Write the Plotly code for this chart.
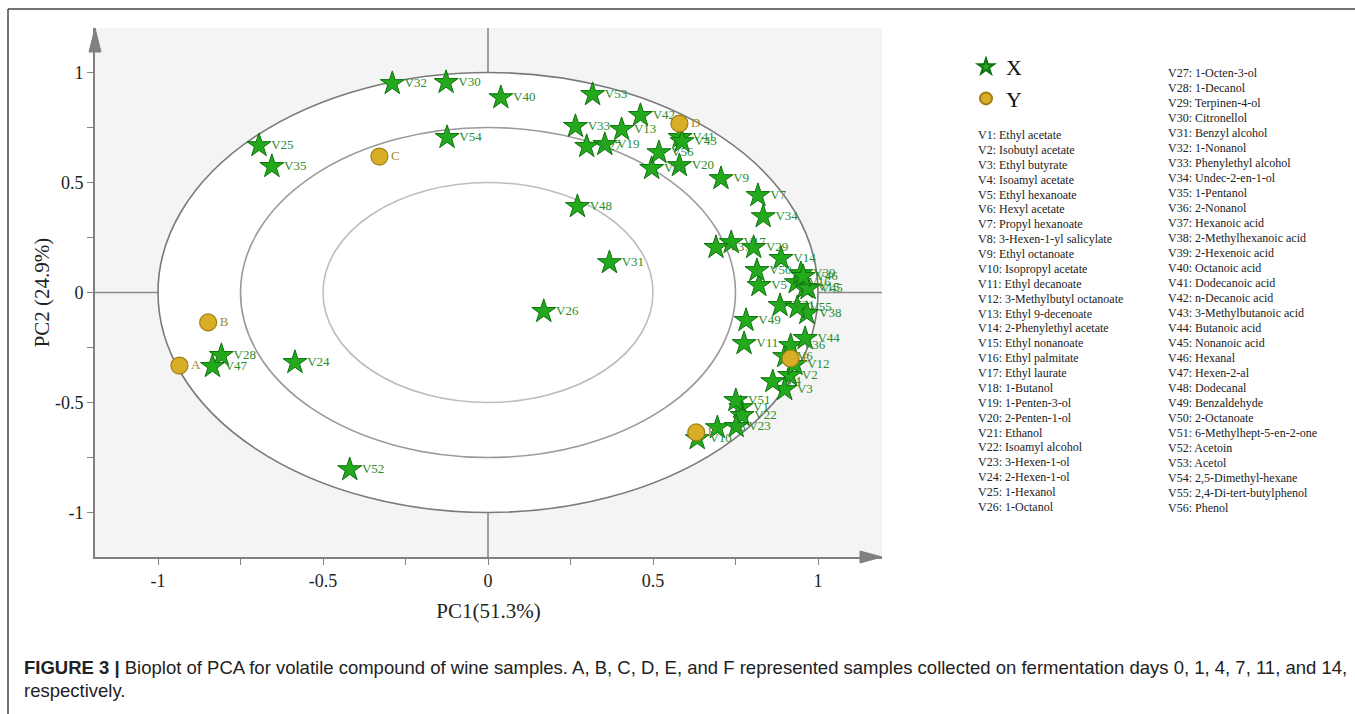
import plotly.graph_objects as go

# ---------------- data ----------------
var_labels = [f"V{i}" for i in range(1, 57)]
var_pc1 = [0.766, 0.914, 0.899, 0.863, 0.821, 0.899, 0.818, 0.695, 0.706, 0.634,
           0.776, 0.930, 0.405, 0.888, 0.961, 0.934, 0.737, 0.496, 0.354, 0.580,
           0.885, 0.770, 0.752, -0.585, -0.694, 0.169, 0.299, -0.808, 0.805, -0.127,
           0.368, -0.290, 0.265, 0.834, -0.655, 0.917, 0.691, 0.966, 0.948, 0.039,
           0.582, 0.462, 0.588, 0.961, 0.970, 0.955, -0.835, 0.271, 0.782, 0.815,
           0.751, -0.419, 0.317, -0.124, 0.937, 0.518]
var_pc2 = [-0.523, -0.377, -0.441, -0.405, 0.032, -0.291, 0.441, -0.614, 0.518, -0.664,
           -0.232, -0.327, 0.741, 0.155, 0.023, 0.045, 0.227, 0.564, 0.673, 0.577,
           -0.059, -0.559, -0.609, -0.318, 0.668, -0.086, 0.664, -0.286, 0.205, 0.955,
           0.136, 0.950, 0.755, 0.345, 0.573, -0.241, 0.205, -0.095, 0.086, 0.886,
           0.705, 0.805, 0.686, -0.209, 0.018, 0.073, -0.336, 0.391, -0.127, 0.100,
           -0.491, -0.805, 0.900, 0.705, -0.068, 0.636]

sample_labels = ["A", "B", "C", "D", "E", "F"]
sample_pc1 = [-0.935, -0.848, -0.329, 0.580, 0.917, 0.631]
sample_pc2 = [-0.332, -0.136, 0.618, 0.768, -0.300, -0.636]

compound_names = [
    "Ethyl acetate", "Isobutyl acetate", "Ethyl butyrate", "Isoamyl acetate",
    "Ethyl hexanoate", "Hexyl acetate", "Propyl hexanoate", "3-Hexen-1-yl salicylate",
    "Ethyl octanoate", "Isopropyl acetate", "Ethyl decanoate", "3-Methylbutyl octanoate",
    "Ethyl 9-decenoate", "2-Phenylethyl acetate", "Ethyl nonanoate", "Ethyl palmitate",
    "Ethyl laurate", "1-Butanol", "1-Penten-3-ol", "2-Penten-1-ol", "Ethanol",
    "Isoamyl alcohol", "3-Hexen-1-ol", "2-Hexen-1-ol", "1-Hexanol", "1-Octanol",
    "1-Octen-3-ol", "1-Decanol", "Terpinen-4-ol", "Citronellol", "Benzyl alcohol",
    "1-Nonanol", "Phenylethyl alcohol", "Undec-2-en-1-ol", "1-Pentanol", "2-Nonanol",
    "Hexanoic acid", "2-Methylhexanoic acid", "2-Hexenoic acid", "Octanoic acid",
    "Dodecanoic acid", "n-Decanoic acid", "3-Methylbutanoic acid", "Butanoic acid",
    "Nonanoic acid", "Hexanal", "Hexen-2-al", "Dodecanal", "Benzaldehyde",
    "2-Octanoate", "6-Methylhept-5-en-2-one", "Acetoin", "Acetol",
    "2,5-Dimethyl-hexane", "2,4-Di-tert-butylphenol", "Phenol"]

series_names = ["X", "Y"]
circle_radii = [1.0, 0.75, 0.5]
tick_vals = [-1, -0.5, 0, 0.5, 1]
tick_text = ["-1", "-0.5", "0", "0.5", "1"]

caption_bold = "FIGURE 3 |"
caption_line1 = (" Bioplot of PCA for volatile compound of wine samples. A, B, C, D, E, and F "
                 "represented samples collected on fermentation days 0, 1, 4, 7, 11, and 14,")
caption_line2 = "respectively."

# ---------------- layout geometry (pixels) ----------------
W, H = 1355, 714
L, R, T, B = 95, 882, 28, 557
pw, ph = R - L, B - T


def px(xp):
    return (xp - L) / pw


def py(yp):
    return (B - yp) / ph


SERIF = "Liberation Serif, Times New Roman, serif"
SANS = "Liberation Sans, Arial, sans-serif"

fig = go.Figure()

fig.add_trace(go.Scatter(
    x=var_pc1, y=var_pc2, text=var_labels, mode="markers+text",
    name=series_names[0], textposition="middle right",
    textfont=dict(family=SERIF, size=13, color="#2b8c2b"),
    marker=dict(symbol="star", size=18, color="#22aa1c",
                line=dict(color="#11700f", width=1)),
    cliponaxis=False,
))
fig.add_trace(go.Scatter(
    x=sample_pc1, y=sample_pc2, text=sample_labels, mode="markers+text",
    name=series_names[1], textposition="middle right",
    textfont=dict(family=SERIF, size=13, color="#a3852c"),
    marker=dict(symbol="circle", size=17, color="#d8ae26",
                line=dict(color="#9f7d16", width=1.2)),
    cliponaxis=False,
))

shapes = []
# white fill inside outer circle
shapes.append(dict(type="circle", xref="x", yref="y", x0=-1, x1=1, y0=-1, y1=1,
                   fillcolor="white", line=dict(width=0), layer="below"))
ring_colors = ["#7a7a7a", "#9a9a9a", "#bdbdbd"]
for r, c in zip(circle_radii, ring_colors):
    shapes.append(dict(type="circle", xref="x", yref="y", x0=-r, x1=r, y0=-r, y1=r,
                       line=dict(color=c, width=1.6), layer="below"))
# crosshair
shapes.append(dict(type="line", xref="x", yref="paper", x0=0, x1=0, y0=0, y1=1,
                   line=dict(color="#8a8a8a", width=1.6), layer="below"))
shapes.append(dict(type="line", xref="paper", yref="y", x0=0, x1=1, y0=0, y1=0,
                   line=dict(color="#8a8a8a", width=1.6), layer="below"))
# axis arrows
ax_w = 6
shapes.append(dict(type="path", xref="paper", yref="paper",
                   path=f"M {px(L - ax_w)} {py(52)} L {px(L)} {py(T)} L {px(L + ax_w)} {py(52)} Z",
                   fillcolor="#808080", line=dict(color="#808080", width=1)))
shapes.append(dict(type="path", xref="paper", yref="paper",
                   path=f"M {px(860)} {py(B - ax_w)} L {px(R)} {py(B)} L {px(860)} {py(B + ax_w)} Z",
                   fillcolor="#808080", line=dict(color="#808080", width=1)))
# outer frame lines
shapes.append(dict(type="line", xref="paper", yref="paper", x0=px(8), x1=px(W + 5),
                   y0=py(9), y1=py(9), line=dict(color="#444444", width=1.5)))
shapes.append(dict(type="line", xref="paper", yref="paper", x0=px(8), x1=px(8),
                   y0=py(9), y1=py(H + 5), line=dict(color="#444444", width=1.5)))

annotations = []
# compound list
col1_x, col2_x = 976, 1166
for i, name in enumerate(compound_names):
    if i < 26:
        xx, yy = col1_x, 135 + i * 14.88
    else:
        xx, yy = col2_x, 73 + (i - 26) * 15.0
    annotations.append(dict(xref="paper", yref="paper", x=px(xx), y=py(yy),
                            xanchor="left", yanchor="middle", showarrow=False,
                            text=f"{var_labels[i]}: {name}",
                            font=dict(family=SERIF, size=12, color="#222222")))
# caption
annotations.append(dict(xref="paper", yref="paper", x=px(22), y=py(667),
                        xanchor="left", yanchor="middle", showarrow=False,
                        text=f"<b>{caption_bold}</b>{caption_line1}",
                        font=dict(family=SANS, size=18.5, color="#222222")))
annotations.append(dict(xref="paper", yref="paper", x=px(22), y=py(690),
                        xanchor="left", yanchor="middle", showarrow=False,
                        text=caption_line2,
                        font=dict(family=SANS, size=18.5, color="#222222")))

axis_common = dict(
    showgrid=False, zeroline=False, showline=True, linecolor="#808080", linewidth=2,
    ticks="outside", ticklen=6, tickcolor="#808080", tickwidth=1.2,
    tickmode="array", tickvals=tick_vals, ticktext=tick_text,
    tickfont=dict(family=SERIF, size=18, color="#222222"),
    minor=dict(tickmode="linear", tick0=0, dtick=0.25, ticks="outside", ticklen=6,
               tickcolor="#808080", tickwidth=1.2),
)

fig.update_layout(
    width=W, height=H,
    margin=dict(l=L, r=W - R, t=T, b=H - B),
    paper_bgcolor="white", plot_bgcolor="#f4f4f4",
    xaxis=dict(range=[(L - 488) / 330, (R - 488) / 330],
               title=dict(text="PC1(51.3%)", font=dict(family=SERIF, size=21, color="#222222"),
                          standoff=14),
               **axis_common),
    yaxis=dict(range=[(292.5 - B) / 220, (292.5 - T) / 220],
               title=dict(text="PC2 (24.9%)", font=dict(family=SERIF, size=21, color="#222222"),
                          standoff=0),
               **axis_common),
    showlegend=True,
    legend=dict(x=px(966), y=py(46), xanchor="left", yanchor="top",
                font=dict(family=SERIF, size=22, color="#111111"),
                bgcolor="rgba(0,0,0,0)", itemsizing="constant", tracegroupgap=0),
    shapes=shapes, annotations=annotations,
)

fig.write_html("out.html")
